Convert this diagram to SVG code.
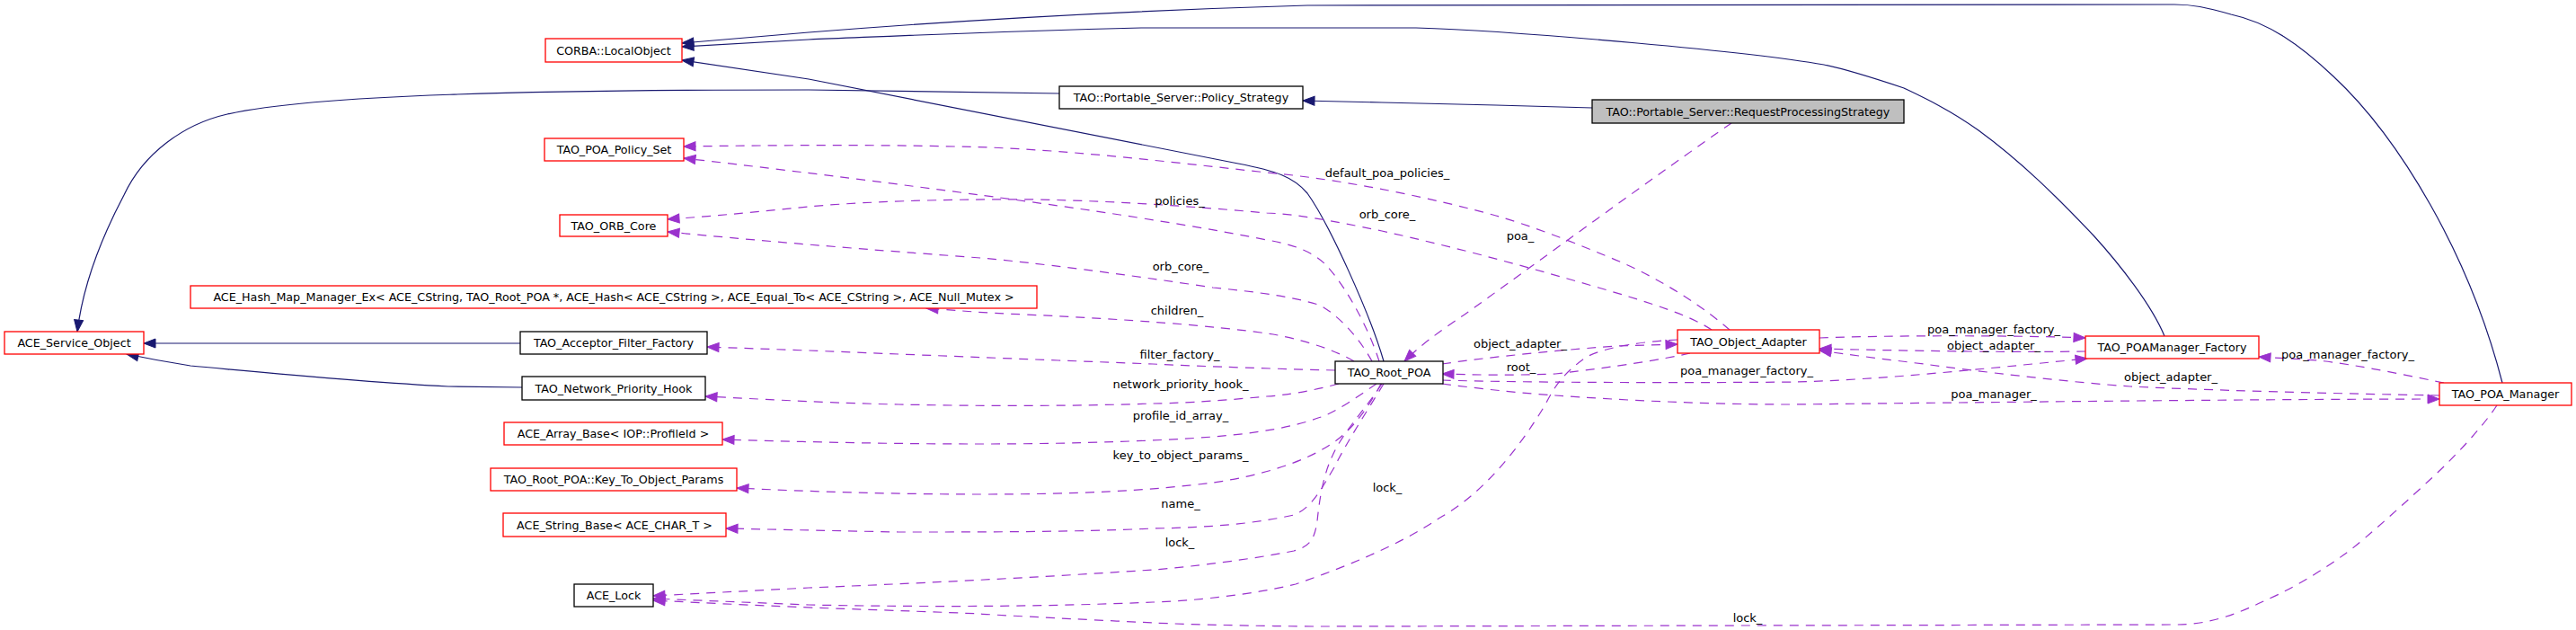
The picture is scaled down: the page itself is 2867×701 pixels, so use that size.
<svg xmlns="http://www.w3.org/2000/svg" width="2867" height="701" viewBox="0 0 2867 701">
<style>
.node rect{fill:#fff;stroke:#000;stroke-width:1.3}
.node.red rect{stroke:#ff0000}
.node.gray rect{fill:#bfbfbf}
.node text{font-family:'DejaVu Sans',sans-serif;font-size:12.7px;text-anchor:middle;fill:#000}
.inh{fill:none;stroke:#191970;stroke-width:1.2;marker-end:url(#ai)}
.use{fill:none;stroke:#9a32cd;stroke-width:1.2;stroke-dasharray:10,8;marker-end:url(#au)}
.lbl{font-family:'DejaVu Sans',sans-serif;font-size:13px;text-anchor:middle;fill:#000}
</style>
<defs>
<marker id="ai" markerUnits="userSpaceOnUse" markerWidth="14" markerHeight="10" viewBox="0 0 13 10" refX="13" refY="5" orient="auto" overflow="visible"><path d="M0,0L13,5L0,10z" fill="#191970" stroke="#191970" stroke-width="1"/></marker>
<marker id="au" markerUnits="userSpaceOnUse" markerWidth="14" markerHeight="10" viewBox="0 0 13 10" refX="13" refY="5" orient="auto" overflow="visible"><path d="M0,0L13,5L0,10z" fill="#9a32cd" stroke="#9a32cd" stroke-width="1"/></marker>
</defs>
<rect width="2867" height="701" fill="#fff"/>
<g id="edges">
<path class="inh" d="M1179,104 L900,100 C600,100 350,105 253,127 C205,138 160,170 138,217 C110,270 92,320 86,369"/>
<path class="inh" d="M1540,402 C1525,350 1480,250 1455,215 C1440,197 1420,190 1378,182 L900,88 L759,67"/>
<path class="inh" d="M2785,426 C2768,360 2740,290 2705,228 C2675,175 2640,125 2597,85 C2560,50 2525,25 2483,16 C2455,8 2440,5 2420,5 L1455,6 C1250,12 1050,24 900,36 L759,48"/>
<path class="inh" d="M2409,374 C2395,340 2360,295 2330,262 C2290,220 2250,180 2202,145 C2170,122 2140,108 2119,98 C2080,85 2050,76 2030,72 C1950,58 1700,35 1576,31 L1270,31 C1100,35 1000,40 900,44 L759,52"/>
<path class="inh" d="M1772,120 L1665,117 L1538,114 L1450,112"/>
<path class="inh" d="M579,382 L160,382"/>
<path class="inh" d="M581,431 L499,430 C400,425 300,415 212,407 C180,402 160,398 141,394"/>

<path class="use" d="M1925,367 C1900,345 1850,310 1793,287 C1740,265 1700,250 1665,240 C1600,222 1500,200 1410,192 C1300,180 1200,168 1100,164 C1000,161 900,161 761,163"/>
<path class="use" d="M1905,367 C1880,350 1830,335 1779,320 C1700,297 1620,275 1538,257 C1480,245 1440,238 1410,237 C1330,230 1250,224 1155,222 C1050,221 950,225 900,230 C850,235 800,240 743,244"/>
<path class="use" d="M1535,402 C1525,370 1500,320 1474,293 C1460,280 1440,272 1410,267 C1300,245 1150,225 1091,217 C1000,205 900,192 761,176"/>
<path class="use" d="M1527,402 C1515,380 1495,355 1470,340 C1440,330 1400,325 1350,320 C1250,305 1150,292 1091,287 C1000,280 900,273 743,258"/>
<path class="use" d="M1507,402 C1490,392 1460,380 1417,372 C1350,362 1250,355 1142,350 C1090,348 1060,345 1031,343"/>
<path class="use" d="M1486,412 C1400,410 1300,406 1283,405 C1150,400 1000,394 900,390 L787,386"/>
<path class="use" d="M1490,427 C1460,435 1430,440 1410,441 C1350,447 1300,449 1283,449 C1200,452 1091,452 1000,450 C950,449 900,447 785,441"/>
<path class="use" d="M1532,427 C1510,442 1485,460 1467,465 C1440,475 1400,482 1350,486 C1300,490 1200,494 1091,494 C1000,494 900,492 804,489"/>
<path class="use" d="M1537,427 C1525,450 1505,480 1480,495 C1450,515 1400,530 1350,537 C1280,546 1200,550 1091,550 C1000,550 900,547 820,543"/>
<path class="use" d="M1540,427 C1520,460 1500,490 1485,520 C1470,545 1460,565 1440,573 C1400,582 1350,587 1283,588 C1200,592 1091,592 1000,592 C950,591 900,590 808,588"/>
<path class="use" d="M1538,427 C1520,455 1495,480 1483,507 C1472,530 1468,560 1466,580 C1463,600 1458,608 1440,613 C1380,625 1300,633 1283,634 C1150,643 1000,650 900,654 L727,663"/>
<path class="use" d="M1867,378 C1830,380 1790,385 1766,397 C1740,415 1730,430 1720,450 C1690,500 1650,550 1601,577 C1560,605 1500,630 1442,650 C1380,665 1300,670 1283,670 C1150,676 1000,675 900,673 L727,666"/>
<path class="use" d="M2779,451 C2760,480 2720,520 2702,536 C2660,575 2620,610 2609,617 C2570,645 2540,660 2517,670 C2480,688 2450,695 2424,695 L1474,697 C1400,697 1300,694 1283,693 C1200,689 1100,684 1091,683 C1000,679 900,677 727,668"/>
<path class="use" d="M1927,137 C1850,190 1700,300 1630,350 C1600,370 1580,385 1563,402"/>
<path class="use" d="M1605,405 C1650,398 1750,388 1801,385 L1867,383"/>
<path class="use" d="M1881,393 C1850,400 1800,408 1731,416 C1680,418 1640,417 1605,416"/>
<path class="use" d="M1605,423 C1700,426 1900,426 2000,425 C2100,422 2200,411 2323,399"/>
<path class="use" d="M1605,427 C1650,433 1700,438 1731,440 C1800,445 1900,450 1990,450 C2100,449 2500,444 2715,444"/>
<path class="use" d="M2025,376 C2100,373 2250,373 2321,376"/>
<path class="use" d="M2321,391 C2250,392 2150,391 2025,388"/>
<path class="use" d="M2715,440 C2600,438 2450,434 2371,430 C2300,425 2200,413 2141,405 C2100,400 2060,395 2025,390"/>
<path class="use" d="M2720,426 C2690,420 2620,405 2579,401 C2550,399 2530,398 2514,397"/>

<text class="lbl" x="1544" y="197">default_poa_policies_</text>
<text class="lbl" x="1313" y="228">policies_</text>
<text class="lbl" x="1544" y="243">orb_core_</text>
<text class="lbl" x="1314" y="301">orb_core_</text>
<text class="lbl" x="1692" y="267">poa_</text>
<text class="lbl" x="1310" y="350">children_</text>
<text class="lbl" x="1313" y="399">filter_factory_</text>
<text class="lbl" x="1314" y="432">network_priority_hook_</text>
<text class="lbl" x="1314" y="467">profile_id_array_</text>
<text class="lbl" x="1314" y="511">key_to_object_params_</text>
<text class="lbl" x="1314" y="565">name_</text>
<text class="lbl" x="1313" y="608">lock_</text>
<text class="lbl" x="1544" y="547">lock_</text>
<text class="lbl" x="1945" y="692">lock_</text>
<text class="lbl" x="1692" y="387">object_adapter_</text>
<text class="lbl" x="1693" y="413">root_</text>
<text class="lbl" x="1944" y="417">poa_manager_factory_</text>
<text class="lbl" x="2219" y="443">poa_manager_</text>
<text class="lbl" x="2219" y="371">poa_manager_factory_</text>
<text class="lbl" x="2219" y="389">object_adapter_</text>
<text class="lbl" x="2416" y="424">object_adapter_</text>
<text class="lbl" x="2613" y="399">poa_manager_factory_</text>
</g>
<g id="n_localobject" class="node red"><rect x="607" y="43" width="152" height="26"/><text x="683" y="60.5">CORBA::LocalObject</text></g>
<g id="n_policy_strategy" class="node"><rect x="1179" y="96" width="271" height="25"/><text x="1314.5" y="113">TAO::Portable_Server::Policy_Strategy</text></g>
<g id="n_rps" class="node gray"><rect x="1772" y="111" width="347" height="26"/><text x="1945.5" y="128.5">TAO::Portable_Server::RequestProcessingStrategy</text></g>
<g id="n_policy_set" class="node red"><rect x="606" y="154" width="155" height="25"/><text x="683.5" y="171">TAO_POA_Policy_Set</text></g>
<g id="n_orb_core" class="node red"><rect x="623" y="239" width="120" height="24"/><text x="683" y="255.5">TAO_ORB_Core</text></g>
<g id="n_hash_map" class="node red"><rect x="212" y="318" width="942" height="25"/><text x="683" y="335">ACE_Hash_Map_Manager_Ex&lt; ACE_CString, TAO_Root_POA *, ACE_Hash&lt; ACE_CString &gt;, ACE_Equal_To&lt; ACE_CString &gt;, ACE_Null_Mutex &gt;</text></g>
<g id="n_service_object" class="node red"><rect x="5" y="369" width="155" height="25"/><text x="82.5" y="386">ACE_Service_Object</text></g>
<g id="n_acceptor" class="node"><rect x="579" y="369" width="208" height="25"/><text x="683" y="386">TAO_Acceptor_Filter_Factory</text></g>
<g id="n_nph" class="node"><rect x="581" y="419" width="204" height="26"/><text x="683" y="436.5">TAO_Network_Priority_Hook</text></g>
<g id="n_array_base" class="node red"><rect x="561" y="470" width="243" height="25"/><text x="682.5" y="487">ACE_Array_Base&lt; IOP::ProfileId &gt;</text></g>
<g id="n_key_params" class="node red"><rect x="546" y="521" width="274" height="25"/><text x="683" y="538">TAO_Root_POA::Key_To_Object_Params</text></g>
<g id="n_string_base" class="node red"><rect x="560" y="571" width="248" height="26"/><text x="684" y="588.5">ACE_String_Base&lt; ACE_CHAR_T &gt;</text></g>
<g id="n_lock" class="node"><rect x="639" y="650" width="88" height="25"/><text x="683" y="667">ACE_Lock</text></g>
<g id="n_root_poa" class="node"><rect x="1486" y="402" width="120" height="25"/><text x="1546" y="419">TAO_Root_POA</text></g>
<g id="n_object_adapter" class="node red"><rect x="1867" y="367" width="158" height="26"/><text x="1946" y="384.5">TAO_Object_Adapter</text></g>
<g id="n_poamanager_factory" class="node red"><rect x="2321" y="374" width="193" height="25"/><text x="2417.5" y="391">TAO_POAManager_Factory</text></g>
<g id="n_poa_manager" class="node red"><rect x="2715" y="426" width="147" height="25"/><text x="2788.5" y="443">TAO_POA_Manager</text></g>
</svg>
